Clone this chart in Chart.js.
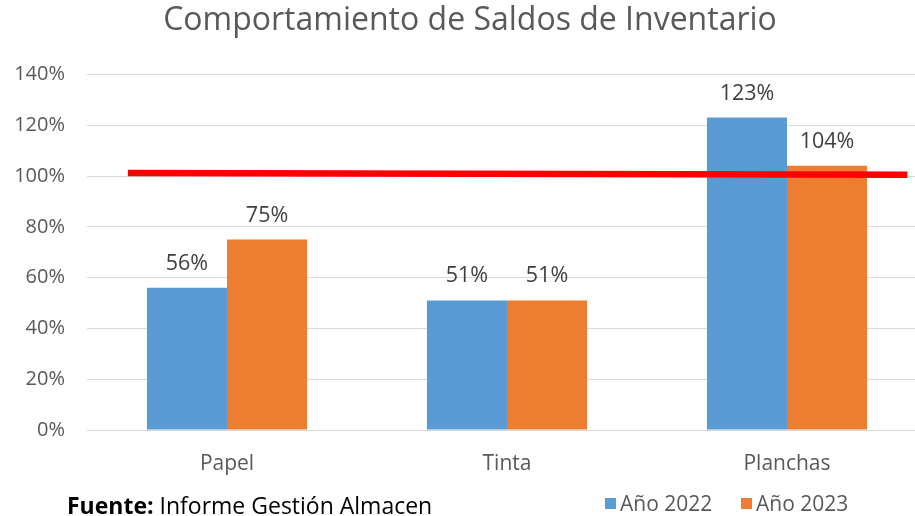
<!DOCTYPE html>
<html>
<head>
<meta charset="utf-8">
<script src="https://cdn.jsdelivr.net/npm/chart.js@4"></script>
<style>
  body { margin: 0; background: #fff; overflow: hidden; }
  #wrap { position: relative; width: 915px; height: 516px; overflow: hidden; }
  #box { position: absolute; left: 0; top: 0; width: 940px; height: 516px; }
  .foot { position: absolute; font-family: "Open Sans", sans-serif; white-space: nowrap; }
  #fuente { left: 67px; top: 489px; color: #000; font-size: 23px; }
  #leyenda { left: 605px; top: 489px; color: #595959; display: flex; font-size: 21px; }
  #leyenda span.sw { display: inline-block; width: 11px; height: 11px; margin-right: 4px; }
  #leyenda .it { display: flex; align-items: center; width: 136px; }
</style>
</head>
<body>
<div id="wrap">
  <div id="box"><canvas id="grafico" width="940" height="516"></canvas></div>
  <div class="foot" id="fuente"><b>Fuente:</b> Informe Gestión Almacen</div>
  <div class="foot" id="leyenda"></div>
</div>
<script>
// Datos del gráfico
const categorias = ['Papel', 'Tinta', 'Planchas'];
const anio2022 = [56, 51, 123];
const anio2023 = [75, 51, 104];
const series = ['Año 2022', 'Año 2023'];
const colores = ['#5B9BD5', '#ED7D31'];
const titulo = 'Comportamiento de Saldos de Inventario';
// Línea roja de referencia (posición en categorías, valor en %)
const lineaX = [-0.354, 2.43];
const lineaY = [101.2, 100.5];

const GRIS = '#595959';
const FUENTE = '"Open Sans", sans-serif';

// Línea roja y etiquetas de valor encima de las barras
const extras = {
    id: 'extras',
    afterDatasetsDraw(chart) {
        const ctx = chart.ctx;
        const sx = chart.scales.x2, sy = chart.scales.y;
        ctx.save();
        ctx.strokeStyle = '#FF0000';
        ctx.lineWidth = 6.5;
        ctx.beginPath();
        lineaX.forEach((x, i) => {
            const px = sx.getPixelForValue(x), py = sy.getPixelForValue(lineaY[i]);
            if (i === 0) ctx.moveTo(px, py); else ctx.lineTo(px, py);
        });
        ctx.stroke();

        ctx.font = '21.5px ' + FUENTE;
        ctx.fillStyle = '#404040';
        ctx.textAlign = 'center';
        ctx.textBaseline = 'alphabetic';
        chart.data.datasets.forEach((ds, i) => {
            chart.getDatasetMeta(i).data.forEach((bar, j) => {
                ctx.fillText(ds.data[j] + '%', bar.x, bar.y - 18);
            });
        });
        ctx.restore();
    }
};

new Chart(document.getElementById('grafico'), {
    type: 'bar',
    data: {
        labels: categorias,
        datasets: [
            { label: series[0], data: anio2022, backgroundColor: colores[0] },
            { label: series[1], data: anio2023, backgroundColor: colores[1] }
        ]
    },
    options: {
        responsive: false,
        animation: false,
        layout: { padding: { left: 13, right: 13, top: 0, bottom: 0 } },
        datasets: { bar: { barPercentage: 1, categoryPercentage: 0.572 } },
        plugins: {
            legend: { display: false },
            tooltip: { enabled: false },
            title: {
                display: true,
                text: titulo,
                color: GRIS,
                font: { family: FUENTE, size: 32, weight: 'normal' },
                padding: { top: 2, bottom: 34 }
            }
        },
        scales: {
            x: {
                grid: { display: false },
                border: { color: '#D9D9D9' },
                ticks: { color: GRIS, font: { family: FUENTE, size: 21 }, padding: 13 },
                afterFit(s) { s.height = 86; }
            },
            x2: {
                type: 'linear',
                display: false,
                offset: false,
                min: -0.5,
                max: 2.5
            },
            y: {
                min: 0,
                max: 140,
                ticks: {
                    stepSize: 20,
                    color: GRIS,
                    font: { family: FUENTE, size: 20 },
                    padding: 22,
                    callback: v => v + '%'
                },
                grid: { color: '#D9D9D9', drawTicks: false },
                border: { display: false },
                afterFit(s) { s.width = 74; }
            }
        }
    },
    plugins: [extras]
});

// Leyenda inferior
const leyenda = document.getElementById('leyenda');
series.forEach((nombre, i) => {
    const it = document.createElement('div');
    it.className = 'it';
    it.innerHTML = `<span class="sw" style="background:${colores[i]}"></span>${nombre}`;
    leyenda.appendChild(it);
});
</script>
</body>
</html>
